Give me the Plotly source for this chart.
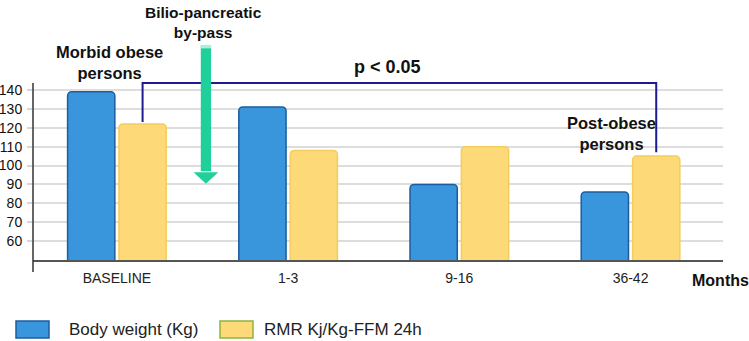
import plotly.graph_objects as go

categories = ["BASELINE", "1-3", "9-16", "36-42"]
body_weight = [139, 131, 90, 86]
rmr = [122, 108, 110, 105]
y_ticks = [60, 70, 80, 90, 100, 110, 120, 130, 140]

W, H = 749, 341
ML, MR, MT, MB = 33, 26, 0, 81
PW, PH = W - ML - MR, H - MT - MB
FONT = "Liberation Sans, Arial, sans-serif"


def px(x):
    return (x - ML) / PW


def py(y):
    return (H - MB - y) / PH


fig = go.Figure()
fig.add_trace(go.Bar(x=categories, y=body_weight, name="Body weight (Kg)",
                     marker=dict(color="#3a96dc", line=dict(color="#1b5d9f", width=1.5)),
                     showlegend=False))
fig.add_trace(go.Bar(x=categories, y=rmr, name="RMR Kj/Kg-FFM 24h",
                     marker=dict(color="#fdd977", line=dict(color="#f4cd5c", width=1.5)),
                     showlegend=False))

shapes = []
# y axis vertical line
shapes.append(dict(type="line", xref="paper", yref="paper", x0=0, x1=0,
                   y0=py(83), y1=py(272), line=dict(color="#333333", width=1.5)))
# significance bracket (between yellow bars of first and last group)
off = 0.15
shapes.append(dict(type="path", xref="x", yref="y",
                   path=f"M {0 + off},{rmr[0] + 1} L {0 + off},143.7 L {3 + off},143.7 L {3 + off},{rmr[3] + 2}",
                   line=dict(color="#1c1c8f", width=2)))
# green arrow
ax = 0.52
shapes.append(dict(type="rect", xref="x", yref="y", x0=ax - 0.03, x1=ax + 0.03,
                   y0=97, y1=163.8, fillcolor="#1fd09b", line=dict(width=0)))
shapes.append(dict(type="rect", xref="x", yref="y", x0=ax - 0.03, x1=ax + 0.03,
                   y0=162, y1=163.8, fillcolor="#a8f0d8", line=dict(width=0)))
shapes.append(dict(type="path", xref="x", yref="y",
                   path=f"M {ax - 0.072},96.5 L {ax + 0.072},96.5 L {ax},90.3 Z",
                   fillcolor="#1fd09b", line=dict(width=0)))
# legend swatches
shapes.append(dict(type="rect", xref="paper", yref="paper", x0=px(16), x1=px(49),
                   y0=py(338), y1=py(321), fillcolor="#3a96dc",
                   line=dict(color="#1b5d9f", width=1.5)))
shapes.append(dict(type="rect", xref="paper", yref="paper", x0=px(220), x1=px(253),
                   y0=py(338), y1=py(321), fillcolor="#fdd977",
                   line=dict(color="#8cb43c", width=1.5)))

annotations = []


def txt(text, x, y, size, bold=True, anchor="center", color="#111111"):
    annotations.append(dict(text=f"<b>{text}</b>" if bold else text, xref="paper", yref="paper",
                            x=px(x), y=py(y), xanchor=anchor, yanchor="middle",
                            showarrow=False, font=dict(family=FONT, size=size, color=color)))


txt("Bilio-pancreatic<br>by-pass", 203, 22, 15.5)
txt("Morbid obese<br>persons", 109, 62, 16.5)
txt("p &lt; 0.05", 387, 67, 18)
txt("Post-obese<br>persons", 611, 133, 16.5)
txt("Months", 720, 280, 16)
txt("Body weight (Kg)", 67, 329, 17, bold=False, anchor="left", color="#222222")
txt("RMR Kj/Kg-FFM 24h", 262, 329, 17, bold=False, anchor="left", color="#222222")

fig.update_layout(
    width=W, height=H,
    margin=dict(l=ML, r=MR, t=MT, b=MB),
    plot_bgcolor="white", paper_bgcolor="white",
    barmode="group", bargap=0.40, bargroupgap=0.08,
    barcornerradius=4,
    shapes=shapes, annotations=annotations,
    font=dict(family=FONT),
    xaxis=dict(type="category", range=[-0.49, 3.54], showline=True, linecolor="#555555",
               linewidth=2, showgrid=False, ticks="", ticklabelstandoff=4,
               tickfont=dict(family=FONT, size=14, color="#222222")),
    yaxis=dict(range=[50, 187.6], tickvals=y_ticks, showgrid=True, gridcolor="#dddddd",
               gridwidth=2, zeroline=False, showline=False, ticks="outside", ticklen=5,
               tickwidth=2, tickcolor="#d5d5d5", ticklabelstandoff=2,
               tickfont=dict(family=FONT, size=14, color="#111111")),
)

fig.write_html("out.html")
